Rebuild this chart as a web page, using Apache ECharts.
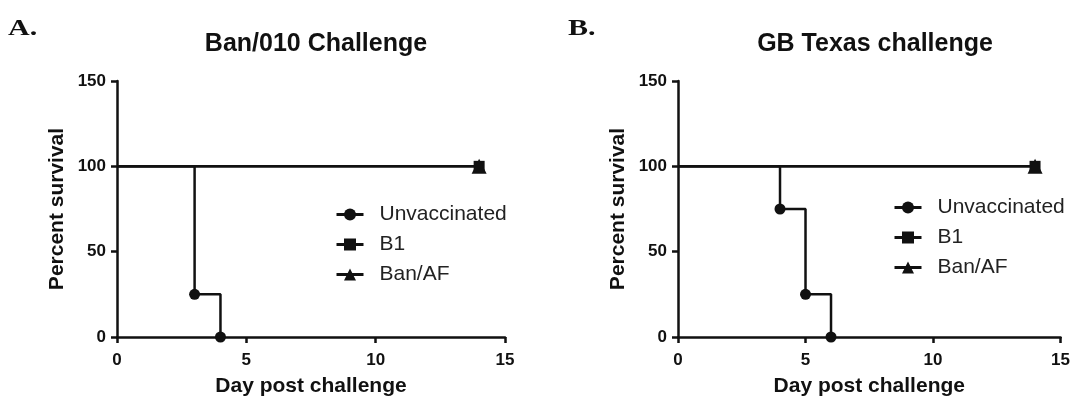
<!DOCTYPE html>
<html>
<head>
<meta charset="utf-8">
<script src="https://cdn.jsdelivr.net/npm/echarts@6/dist/echarts.min.js"></script>
<style>html,body{margin:0;padding:0;background:#fff}#c{width:1073px;height:402px}</style>
</head>
<body>
<div id="c"></div>
<script>
// Data
const panelLabels = ['A.', 'B.'];
const panelTitles = ['Ban/010 Challenge', 'GB Texas challenge'];
const seriesNames = ['Unvaccinated', 'B1', 'Ban/AF'];
const xTicks = [0, 5, 10, 15];
const yTicks = [0, 50, 100, 150];
// Panel A (Ban/010): [day, percent survival]
const unvacA = [[0, 100], [3, 25], [4, 0]];
const b1A = [[0, 100], [14, 100]];
const banafA = [[0, 100], [14, 100]];
// Panel B (GB Texas)
const unvacB = [[0, 100], [4, 75], [5, 25], [6, 0]];
const b1B = [[0, 100], [14, 100]];
const banafB = [[0, 100], [14, 100]];

const FONT = 'Liberation Sans, Arial, sans-serif';
const SERIF = 'Liberation Serif, Times New Roman, serif';
const chart = echarts.init(document.getElementById('c'));

function pts(arr, sym) {
  return arr.map((p, i) => ({ value: p, symbol: i === 0 ? 'none' : sym }));
}

const grids = [
  { left: 117, top: 81, width: 388, height: 258 },
  { left: 678, top: 81, width: 385, height: 258 }
];

function xAxis(i) {
  return {
    type: 'value', gridIndex: i, min: xTicks[0], max: xTicks[xTicks.length - 1], interval: 5,
    name: 'Day post challenge', nameLocation: 'middle', nameGap: 39,
    nameTextStyle: { color: '#111', fontFamily: FONT, fontWeight: 'bold', fontSize: 21 },
    axisLine: { lineStyle: { color: '#111', width: 2.5 } },
    axisTick: { show: true, length: 6, lineStyle: { color: '#111', width: 2.5 } },
    axisLabel: { color: '#111', fontFamily: FONT, fontWeight: 'bold', fontSize: 17, margin: 15 },
    splitLine: { show: false }
  };
}
function yAxis(i) {
  return {
    type: 'value', gridIndex: i, min: yTicks[0], max: yTicks[yTicks.length - 1], interval: 50,
    name: 'Percent survival', nameLocation: 'middle', nameGap: 49,
    nameTextStyle: { color: '#111', fontFamily: FONT, fontWeight: 'bold', fontSize: 21 },
    axisLine: { show: true, lineStyle: { color: '#111', width: 2.5 } },
    axisTick: { show: true, length: 6, lineStyle: { color: '#111', width: 2.5 } },
    axisLabel: { color: '#111', fontFamily: FONT, fontWeight: 'bold', fontSize: 17, margin: 11 },
    splitLine: { show: false }
  };
}

function line(name, data, sym, size, gi) {
  return {
    name: name, type: 'line', step: 'end', xAxisIndex: gi, yAxisIndex: gi,
    data: pts(data, sym), symbol: sym, symbolSize: size, showAllSymbol: true,
    lineStyle: { color: '#111', width: 2.5 }, itemStyle: { color: '#111' },
    animation: false, z: sym === 'triangle' ? 4 : 3
  };
}

const legendCommon = {
  orient: 'vertical', itemWidth: 27, itemHeight: 15, itemGap: 9,
  lineStyle: { width: 3 },
  textStyle: { color: '#222', fontFamily: FONT, fontSize: 21, padding: [0, 0, 0, 11] },
  data: seriesNames,
  selectedMode: false
};

chart.setOption({
  backgroundColor: '#fff',
  graphic: [
    { type: 'text', left: 8, top: 17, scaleX: 1.25, style: { text: panelLabels[0], font: 'bold 24px ' + SERIF, fill: '#111' } },
    { type: 'text', left: 568, top: 17, scaleX: 1.25, style: { text: panelLabels[1], font: 'bold 24px ' + SERIF, fill: '#111' } }
  ],
  title: [
    { text: panelTitles[0], left: 311, textAlign: 'center', top: 27, textStyle: { fontFamily: FONT, fontWeight: 'bold', fontSize: 25, color: '#111' } },
    { text: panelTitles[1], left: 870, textAlign: 'center', top: 27, textStyle: { fontFamily: FONT, fontWeight: 'bold', fontSize: 25, color: '#111' } }
  ],
  legend: [
    Object.assign({ left: 330, top: 199 }, legendCommon),
    Object.assign({ left: 888, top: 192 }, legendCommon)
  ],
  grid: grids,
  xAxis: [xAxis(0), xAxis(1)],
  yAxis: [yAxis(0), yAxis(1)],
  series: [
    line(seriesNames[0], unvacA, 'circle', 11, 0),
    line(seriesNames[1], b1A, 'rect', 11, 0),
    line(seriesNames[2], banafA, 'triangle', 15, 0),
    line(seriesNames[0], unvacB, 'circle', 11, 1),
    line(seriesNames[1], b1B, 'rect', 11, 1),
    line(seriesNames[2], banafB, 'triangle', 15, 1)
  ]
});
</script>
</body>
</html>
